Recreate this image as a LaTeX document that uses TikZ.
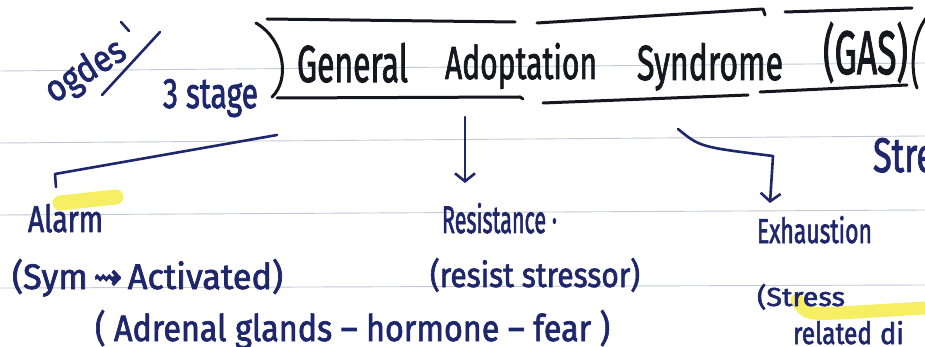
\documentclass[tikz,border=0pt]{standalone}
\usepackage{fontspec}
\setmainfont{Fira Sans}[UprightFeatures={FakeBold=2}]
\newfontfamily\arrowfont{DejaVu Sans}[UprightFeatures={FakeBold=2}]
\usetikzlibrary{arrows.meta}
\definecolor{navy}{RGB}{30,38,108}
\definecolor{inkblack}{RGB}{22,22,30}
\definecolor{rulecol}{RGB}{198,200,214}
\definecolor{hilite}{RGB}{246,236,60}
\newcommand\hw[3]{\resizebox{#1pt}{#2pt}{#3}}
\begin{document}
\begin{tikzpicture}[x=1pt,y=-1pt,
 rule/.style={draw=rulecol, line width=0.9pt},
 blue ink/.style={text=navy, inner sep=0pt, outer sep=0pt, anchor=base west},
 black ink/.style={text=inkblack, inner sep=0pt, outer sep=0pt, anchor=base west},
 pen/.style={draw=navy, line width=2.6pt, line cap=round, line join=round},
 bpen/.style={draw=inkblack, line width=3pt, line cap=round, line join=round},
 tip/.style={-{Straight Barb[length=8pt,width=20pt,line width=2.6pt]}},
 marker/.style={draw=hilite, opacity=0.8, line cap=round, line join=round}]
\useasboundingbox (0,0) rectangle (925,347);
\clip (0,0) rectangle (925,347);
\fill[white] (0,0) rectangle (925,347);
% ruled paper lines
\draw[rule] (0,71) -- (925,63);
\draw[rule] (0,143) -- (925,136);
\draw[rule] (0,215) -- (925,210);
\draw[rule] (0,288) -- (925,285);
% highlighter marks
\draw[marker, line width=15pt] (60,203) -- (116,197);
\draw[marker, line width=13pt] (797,300) .. controls (806,314) .. (840,313) -- (925,308);
% heading frame
\draw[bpen] (267,19) -- (515,22);
\draw[bpen] (537,23) -- (763,9) -- (765,15);
\draw[bpen] (785,12) -- (912,8);
\draw[bpen] (277,98) -- (520,97) -- (523,99);
\draw[bpen] (543,103) -- (748,95);
\draw[bpen] (760,92) -- (907,85);
\draw[bpen] (256,23) .. controls (285,40) and (290,80) .. (272,97);
\draw[bpen] (927,17) .. controls (912,35) and (910,70) .. (917,88);
% heading text
\node[black ink] (general) at (297,82) {\hw{111}{39}{General}};
\node[black ink] (adopt) at (445,79) {\hw{152}{36}{Adoptation}};
\node[black ink] (syn) at (637,80) {\hw{146}{37}{Syndrome}};
\node[black ink] (gas) at (823,74) {\hw{85}{52}{(GAS)}};
% side notes
\node[text=navy, inner sep=0pt, rotate=32] (scrib) at (86,72) {\hw{88}{28}{ogdes}};
\draw[pen] (102,95) -- (160,32);
\draw[pen] (121,22) -- (129,31);
\node[blue ink] (three) at (163,108) {\hw{95}{29}{3 stage}};
\node[blue ink] (stre) at (873,172) {\hw{62}{34}{Stre}};
% stages
\node[blue ink] (alarm) at (28,232) {\hw{75}{28}{Alarm}};
\node[blue ink] (sym) at (12,289) {\hw{271}{30}{(Sym\,{\arrowfont ⇝}\,Activated)}};
\node[blue ink] (adrenal) at (95,341) {\hw{515}{31}{( Adrenal glands -- hormone -- fear )}};
\node[blue ink] (resist) at (442,233) {\hw{115}{30}{Resistance ·}};
\node[blue ink] (rstress) at (430,287) {\hw{210}{29}{(resist stressor)}};
\node[blue ink] (exh) at (757,243) {\hw{115}{27}{Exhaustion}};
\node[blue ink] (stress) at (757,306) {\hw{88}{22}{(Stress}};
\node[blue ink] (related) at (793,344) {\hw{79}{23}{related}};
\node[blue ink] (di) at (880,344) {\hw{24}{23}{di}};
% branches
\coordinate (lbStart) at (277,135);
\coordinate (lbCorner) at (55,174);
\coordinate (lbEnd) at (56,187);
\coordinate (mStart) at (465,117);
\coordinate (mEnd) at (465,183);
\coordinate (rStart) at (678,129);
\coordinate (rCorner) at (773,156);
\coordinate (rEnd) at (770,203);
\draw[pen] (lbStart) -- (lbCorner) -- (lbEnd);
\draw[pen,tip] (mStart) -- (mEnd);
\draw[pen,tip] (rStart) .. controls (700,147) .. (rCorner) -- (rEnd);
\end{tikzpicture}
\end{document}
